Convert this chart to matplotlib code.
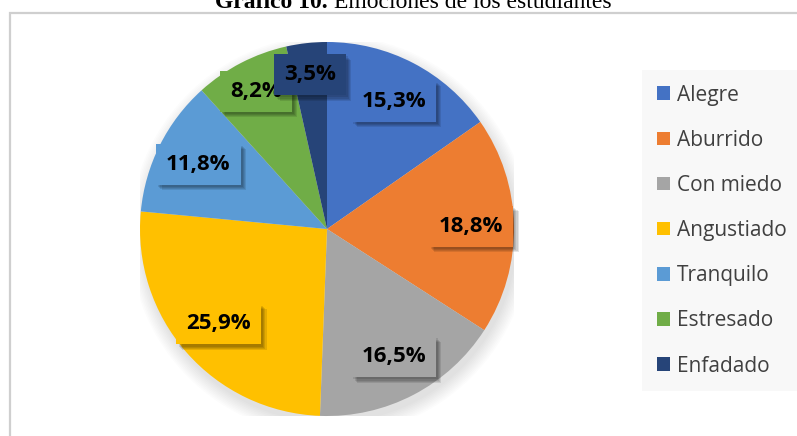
import numpy as np
import matplotlib
matplotlib.use("Agg")
import matplotlib.pyplot as plt
import matplotlib.patches as mpatches
import matplotlib.patheffects as pe

# data
emociones = ["Alegre", "Aburrido", "Con miedo", "Angustiado", "Tranquilo", "Estresado", "Enfadado"]
porcentajes = [15.3, 18.8, 16.5, 25.9, 11.8, 8.2, 3.5]
colores = ["#4472C4", "#ED7D31", "#A5A5A5", "#FFC000", "#5B9BD5", "#70AD47", "#264478"]

W, H = 797, 436
fig = plt.figure(figsize=(W / 100, H / 100), dpi=100)
fig.patch.set_facecolor("white")

# chart frame (cut off at right and bottom)
frame = mpatches.Rectangle((10 / W, -0.05), 1.1, 1 - 13 / H + 0.05, transform=fig.transFigure,
                           fill=False, edgecolor="#cfcfcf", linewidth=1.6)
fig.patches.append(frame)

# title, partly clipped by the top edge as in the source
title_y = 1 - 8 / H
fig.text(328 / W, title_y, "Gráfico 10.", family="Liberation Serif", weight="bold",
         fontsize=17, ha="right", va="baseline")
fig.text(334 / W, title_y, "Emociones de los estudiantes", family="Liberation Serif",
         fontsize=17, ha="left", va="baseline")

# pie axes: centre (327, 229) px, radius 187 px
cx, cy, r = 327, 229, 187
ax = fig.add_axes([(cx - r) / W, 1 - (cy + r) / H, 2 * r / W, 2 * r / H])

# soft shadow under the pie
for k in range(10):
    ax.add_patch(mpatches.Circle((0.015, -0.035), 1.0 + 0.008 * k, color="black",
                                 alpha=0.012, linewidth=0, zorder=0))

wedges, texts, autotexts = ax.pie(
    porcentajes, colors=colores, startangle=90, counterclock=False, radius=1,
    autopct=lambda p: f"{p:.1f}%".replace(".", ","), pctdistance=0.77,
    wedgeprops=dict(linewidth=0),
    textprops=dict(family="Open Sans", weight="bold", fontsize=16, color="black"))

# blurred drop shadow for the label boxes
box_shadow = [pe.SimplePatchShadow(offset=(d, -d), shadow_rgbFace="black", alpha=0.10)
              for d in (4.0, 3.2, 2.4, 1.6)] + [pe.Normal()]

total = sum(porcentajes)
for w, t, col, v in zip(wedges, autotexts, colores, porcentajes):
    if v / total < 0.1:
        ang = np.deg2rad((w.theta1 + w.theta2) / 2)
        t.set_position((0.83 * np.cos(ang), 0.83 * np.sin(ang)))
    t.set_bbox(dict(boxstyle="square,pad=0.45", facecolor=col, edgecolor="none"))
    t.get_bbox_patch().set_path_effects(box_shadow)

ax.set_xlim(-1, 1)
ax.set_ylim(-1, 1)
ax.set_aspect("equal")
ax.axis("off")

# legend on a light grey panel
handles = [mpatches.Patch(facecolor=c, edgecolor="none") for c in colores]
leg = fig.legend(handles, emociones, loc="upper left",
                 bbox_to_anchor=(642 / W, 1 - 70 / H),
                 frameon=True, fancybox=False, facecolor="#f8f8f8", edgecolor="none",
                 framealpha=1, prop=dict(family="Open Sans", size=15),
                 handlelength=0.62, handleheight=0.62, handletextpad=0.35,
                 labelspacing=1.16, borderpad=0.7, borderaxespad=0)
for txt in leg.get_texts():
    txt.set_color("#404040")

fig.savefig("out.png", dpi=100)
